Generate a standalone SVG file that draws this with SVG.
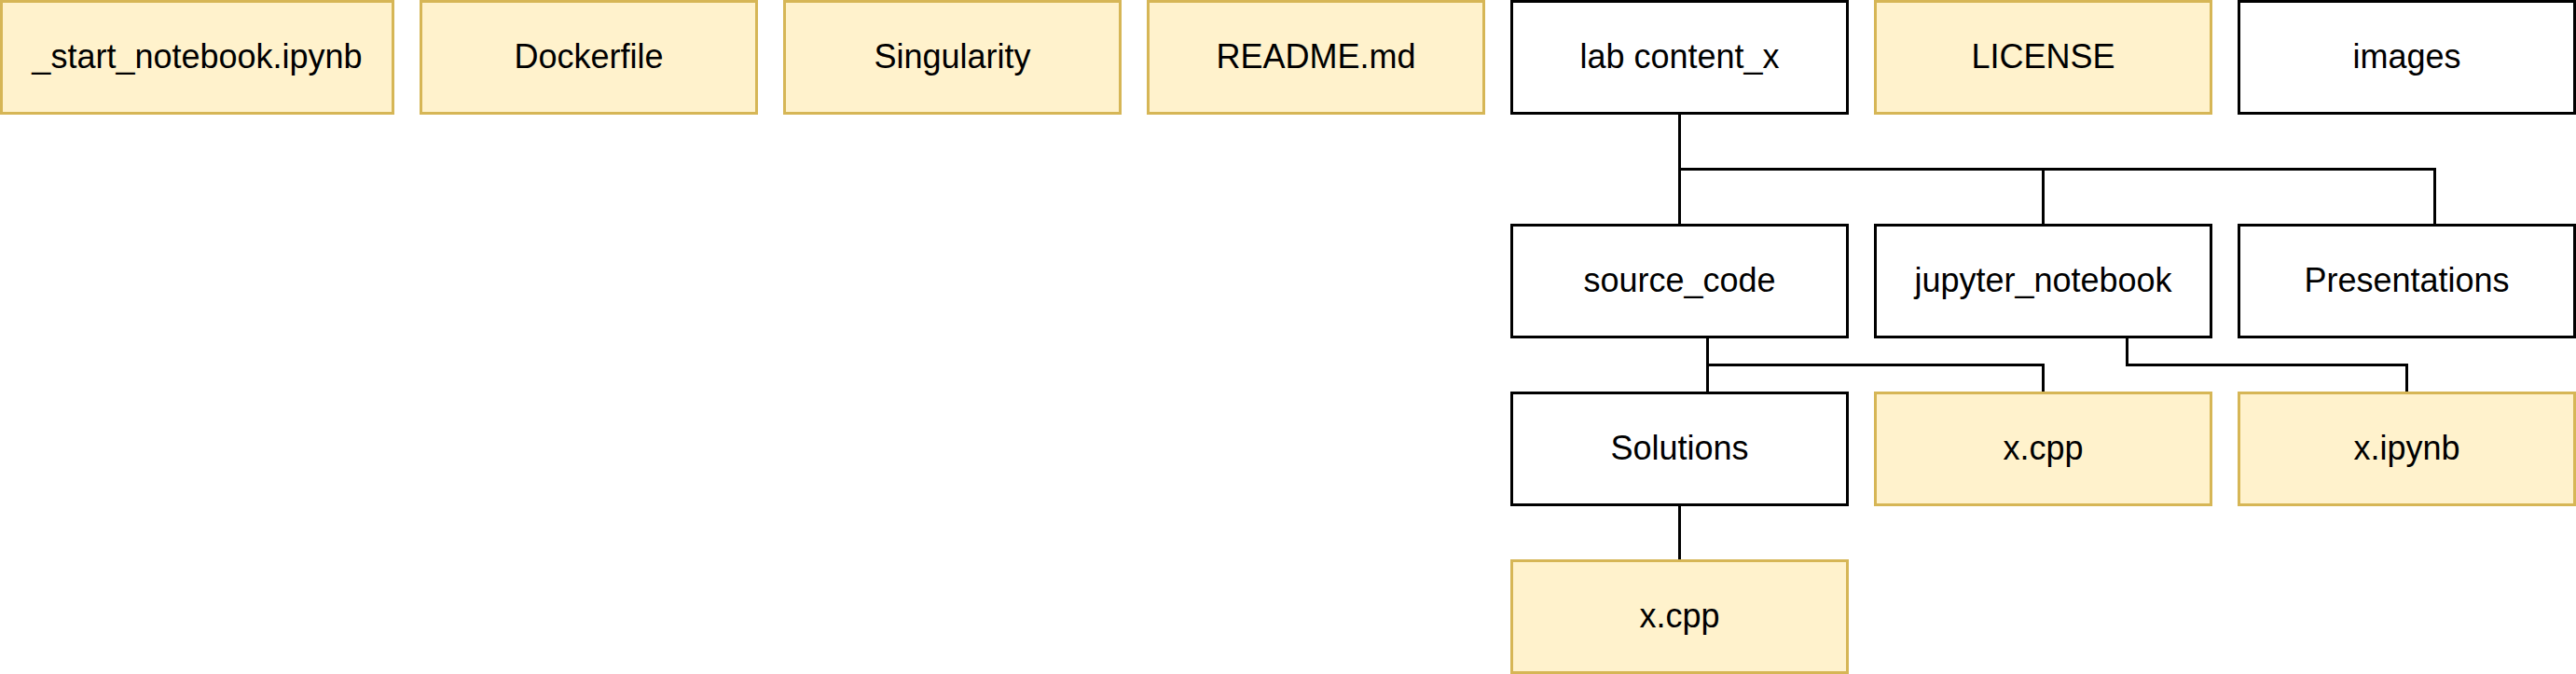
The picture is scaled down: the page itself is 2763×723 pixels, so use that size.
<svg xmlns="http://www.w3.org/2000/svg" width="2763" height="723" viewBox="0 0 2763 723">
<style>
.y{fill:#fff2cc;stroke:#d6b656;stroke-width:3}
.w{fill:#ffffff;stroke:#000000;stroke-width:3}
text{font-family:"Liberation Sans",Arial,Helvetica,sans-serif;font-size:36px;fill:#000000;text-anchor:middle}
.c{fill:none;stroke:#000000;stroke-width:3}
</style>
<rect width="2763" height="723" fill="#ffffff"/>
<g id="connectors">
<path class="c" d="M1801.5 121.5V181.5H2611.5V241.5"/>
<path class="c" d="M1801.5 181.5V241.5"/>
<path class="c" d="M2191.5 181.5V241.5"/>
<path class="c" d="M1831.5 361.5V421.5"/>
<path class="c" d="M1831.5 391.5H2191.5V421.5"/>
<path class="c" d="M2281.5 361.5V391.5H2581.5V421.5"/>
<path class="c" d="M1801.5 541.5V601.5"/>
</g>
<g id="start_notebook"><rect class="y" x="1.5" y="1.5" width="420" height="120"/><text x="211.5" y="72.5">_start_notebook.ipynb</text></g>
<g id="dockerfile"><rect class="y" x="451.5" y="1.5" width="360" height="120"/><text x="631.5" y="72.5">Dockerfile</text></g>
<g id="singularity"><rect class="y" x="841.5" y="1.5" width="360" height="120"/><text x="1021.5" y="72.5">Singularity</text></g>
<g id="readme"><rect class="y" x="1231.5" y="1.5" width="360" height="120"/><text x="1411.5" y="72.5">README.md</text></g>
<g id="lab_content"><rect class="w" x="1621.5" y="1.5" width="360" height="120"/><text x="1801.5" y="72.5">lab content_x</text></g>
<g id="license"><rect class="y" x="2011.5" y="1.5" width="360" height="120"/><text x="2191.5" y="72.5">LICENSE</text></g>
<g id="images"><rect class="w" x="2401.5" y="1.5" width="360" height="120"/><text x="2581.5" y="72.5">images</text></g>
<g id="source_code"><rect class="w" x="1621.5" y="241.5" width="360" height="120"/><text x="1801.5" y="312.5">source_code</text></g>
<g id="jupyter_notebook"><rect class="w" x="2011.5" y="241.5" width="360" height="120"/><text x="2191.5" y="312.5">jupyter_notebook</text></g>
<g id="presentations"><rect class="w" x="2401.5" y="241.5" width="360" height="120"/><text x="2581.5" y="312.5">Presentations</text></g>
<g id="solutions"><rect class="w" x="1621.5" y="421.5" width="360" height="120"/><text x="1801.5" y="492.5">Solutions</text></g>
<g id="x_cpp"><rect class="y" x="2011.5" y="421.5" width="360" height="120"/><text x="2191.5" y="492.5">x.cpp</text></g>
<g id="x_ipynb"><rect class="y" x="2401.5" y="421.5" width="360" height="120"/><text x="2581.5" y="492.5">x.ipynb</text></g>
<g id="solutions_x_cpp"><rect class="y" x="1621.5" y="601.5" width="360" height="120"/><text x="1801.5" y="672.5">x.cpp</text></g>
</svg>
